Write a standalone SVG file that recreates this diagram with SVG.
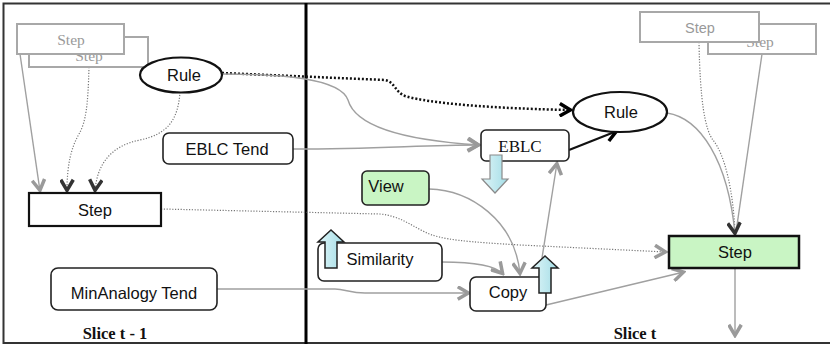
<svg xmlns="http://www.w3.org/2000/svg" width="830" height="346" viewBox="0 0 830 346">
  <defs>
    <marker id="arrGray" markerUnits="userSpaceOnUse" markerWidth="15" markerHeight="15" viewBox="0 0 12 12" refX="10.5" refY="6" orient="auto">
      <path d="M1.5,1 L10,6 L1.5,11" fill="none" stroke="#9a9a9a" stroke-width="2.8" stroke-linejoin="miter"/>
    </marker>
    <marker id="arrDark" markerUnits="userSpaceOnUse" markerWidth="15" markerHeight="15" viewBox="0 0 12 12" refX="10.5" refY="6" orient="auto">
      <path d="M1.5,1 L10,6 L1.5,11" fill="none" stroke="#333" stroke-width="2.8" stroke-linejoin="miter"/>
    </marker>
    <marker id="arrBlack" markerUnits="userSpaceOnUse" markerWidth="15" markerHeight="15" viewBox="0 0 12 12" refX="10.5" refY="6" orient="auto">
      <path d="M1.5,1 L10,6 L1.5,11" fill="none" stroke="#000" stroke-width="2.8" stroke-linejoin="miter"/>
    </marker>
    <linearGradient id="cyan" x1="0" y1="0" x2="1" y2="0">
      <stop offset="0" stop-color="#dff5f8"/>
      <stop offset="1" stop-color="#a3dde6"/>
    </linearGradient>
    <style>
      .frame { fill: none; stroke: #333; stroke-width: 2; }
      .divider { stroke: #000; stroke-width: 3; }
      .slice { font-family: "Liberation Serif", "Times New Roman", serif; font-weight: bold; font-size: 16.5px; fill: #111; text-anchor: middle; }
      .lbl { font-family: "Liberation Sans", Arial, sans-serif; font-size: 16.5px; fill: #111; text-anchor: middle; }
      .serif { font-family: "Liberation Serif", "Times New Roman", serif; font-size: 17px; fill: #111; text-anchor: middle; }
      .ghost { fill: #fff; stroke: #a8a8a8; stroke-width: 2; }
      .ghostSans { font-family: "Liberation Sans", Arial, sans-serif; font-size: 14.5px; fill: #999; text-anchor: middle; }
      .ghostSerif { font-family: "Liberation Serif", "Times New Roman", serif; font-size: 15.5px; fill: #999; text-anchor: middle; }
      .box { fill: #fff; stroke: #222; stroke-width: 1.6; }
      .green { fill: #c9f5c4; stroke: #222; stroke-width: 1.6; }
      .stepBox { fill: #fff; stroke: #111; stroke-width: 2.2; }
      .stepGreen { fill: #c9f5c4; stroke: #111; stroke-width: 2.5; }
      .rule { fill: #fff; stroke: #111; stroke-width: 2.2; }
      .gray { fill: none; stroke: #a0a0a0; stroke-width: 1.4; }
      .dot { fill: none; stroke: #777; stroke-width: 1.2; stroke-dasharray: 1.2 1.6; }
      .thickDot { fill: none; stroke: #111; stroke-width: 2.5; stroke-dasharray: 2 2; }
      .black { fill: none; stroke: #111; stroke-width: 2.2; }
      .blockDown { fill: url(#cyan); stroke: #8a8a8a; stroke-width: 1.2; }
      .blockUp { fill: url(#cyan); stroke: #222; stroke-width: 1.5; }
    </style>
  </defs>

  <!-- frame (open on the right) and time-slice divider -->
  <path class="frame" d="M830,3.5 L3.5,3.5 L3.5,343 L830,343"/>
  <line class="divider" x1="306" y1="3" x2="306" y2="344"/>
  <text class="slice" x="115" y="339">Slice t - 1</text>
  <text class="slice" x="635" y="339">Slice t</text>

  <!-- connectors -->
  <g id="connectors">
    <path class="gray" d="M20,54 L40,191" marker-end="url(#arrGray)"/>
    <path class="dot" d="M89,67 C88,105 86,122 79,134 C71,148 67,165 67,191" marker-end="url(#arrDark)"/>
    <path class="dot" d="M180,92 C178,120 168,134 140,140 C110,146 97,165 95,191" marker-end="url(#arrDark)"/>
    <path class="dot" d="M161,209 L380,214 C400,216 410,225 425,232 C440,240 470,242 520,245 L666,252" marker-end="url(#arrGray)"/>
    <path class="thickDot" d="M222,73 L385,80 C395,82 395,92 405,96 C420,101 470,108 571,110" marker-end="url(#arrBlack)"/>
    <path class="gray" d="M222,74 C280,74 340,78 348,100 C355,125 400,140 479,145" marker-end="url(#arrGray)"/>
    <path class="gray" d="M293,149 C380,149 420,145 479,145" marker-end="url(#arrGray)"/>
    <path class="black" d="M569,150 L617,131" marker-end="url(#arrBlack)"/>
    <path class="dot" d="M699,42 C700,100 705,130 713,140 C725,155 733,190 735,232"/>
    <path class="gray" d="M762,54 L736,232"/>
    <path class="gray" d="M667,113 C700,118 728,160 735,234" marker-end="url(#arrDark)"/>
    <path class="gray" d="M735,268 L735,336" marker-end="url(#arrGray)"/>
    <path class="gray" d="M546,305 L684,272" marker-end="url(#arrGray)"/>
    <path class="gray" d="M539,277 L557,163" marker-end="url(#arrGray)"/>
    <path class="gray" d="M429,189 C470,190 515,220 520,274" marker-end="url(#arrGray)"/>
    <path class="gray" d="M442,262 C470,262 495,265 503,274" marker-end="url(#arrGray)"/>
    <path class="gray" d="M217,289 L335,289 C345,289 350,293 365,293 L469,293" marker-end="url(#arrGray)"/>
  </g>

  <!-- slice t-1 -->
  <g id="ghost-step-back-left">
    <rect class="ghost" x="29" y="37" width="119" height="30"/>
    <text class="ghostSerif" x="89" y="61">Step</text>
  </g>
  <g id="ghost-step-front-left">
    <rect class="ghost" x="17" y="24" width="107" height="30"/>
    <text class="ghostSerif" x="71" y="45">Step</text>
  </g>
  <g id="rule-prev">
    <ellipse class="rule" cx="181" cy="75" rx="41" ry="17.5"/>
    <text class="lbl" x="184" y="81">Rule</text>
  </g>
  <g id="eblc-tend">
    <rect class="box" x="163" y="133" width="130" height="31" rx="6"/>
    <text class="lbl" x="227" y="155">EBLC Tend</text>
  </g>
  <g id="step-prev">
    <rect class="stepBox" x="29" y="193" width="132" height="33"/>
    <text class="lbl" x="95" y="216">Step</text>
  </g>
  <g id="minanalogy-tend">
    <rect class="box" x="51" y="268" width="166" height="42" rx="7"/>
    <text class="lbl" x="134" y="299">MinAnalogy Tend</text>
  </g>

  <!-- slice t -->
  <g id="ghost-step-back-right">
    <rect class="ghost" x="708" y="24" width="108" height="30"/>
    <text class="ghostSerif" x="760" y="47">Step</text>
  </g>
  <g id="ghost-step-front-right">
    <rect class="ghost" x="640" y="12" width="119" height="30"/>
    <text class="ghostSans" x="700" y="33">Step</text>
  </g>
  <g id="rule">
    <ellipse class="rule" cx="620" cy="112" rx="47" ry="20"/>
    <text class="lbl" x="621" y="118">Rule</text>
  </g>
  <g id="eblc">
    <rect class="box" x="481" y="130" width="88" height="31" rx="5"/>
    <text class="serif" x="520" y="152">EBLC</text>
  </g>
  <g id="view">
    <rect class="green" x="362" y="171" width="67" height="34" rx="5"/>
    <text class="lbl" x="386" y="192">View</text>
  </g>
  <g id="similarity">
    <rect class="box" x="318" y="243" width="124" height="38" rx="6"/>
    <text class="lbl" x="380" y="265">Similarity</text>
  </g>
  <g id="copy">
    <rect class="box" x="470" y="277" width="76" height="34" rx="6"/>
    <text class="lbl" x="508" y="298">Copy</text>
  </g>
  <g id="step">
    <rect class="stepGreen" x="669" y="236" width="130" height="32"/>
    <text class="lbl" x="735" y="258">Step</text>
  </g>

  <!-- influence block arrows -->
  <g id="eblc-down">
    <polygon class="blockDown" points="490,155 502,155 502,179 508,179 495,193 482,179 490,179"/>
  </g>
  <g id="similarity-up">
    <polygon class="blockUp" points="325,268 325,242 318,242 331,230 344,242 337,242 337,268"/>
  </g>
  <g id="copy-up">
    <polygon class="blockUp" points="539,293 539,268 532,268 545,256 558,268 551,268 551,293"/>
  </g>
</svg>
